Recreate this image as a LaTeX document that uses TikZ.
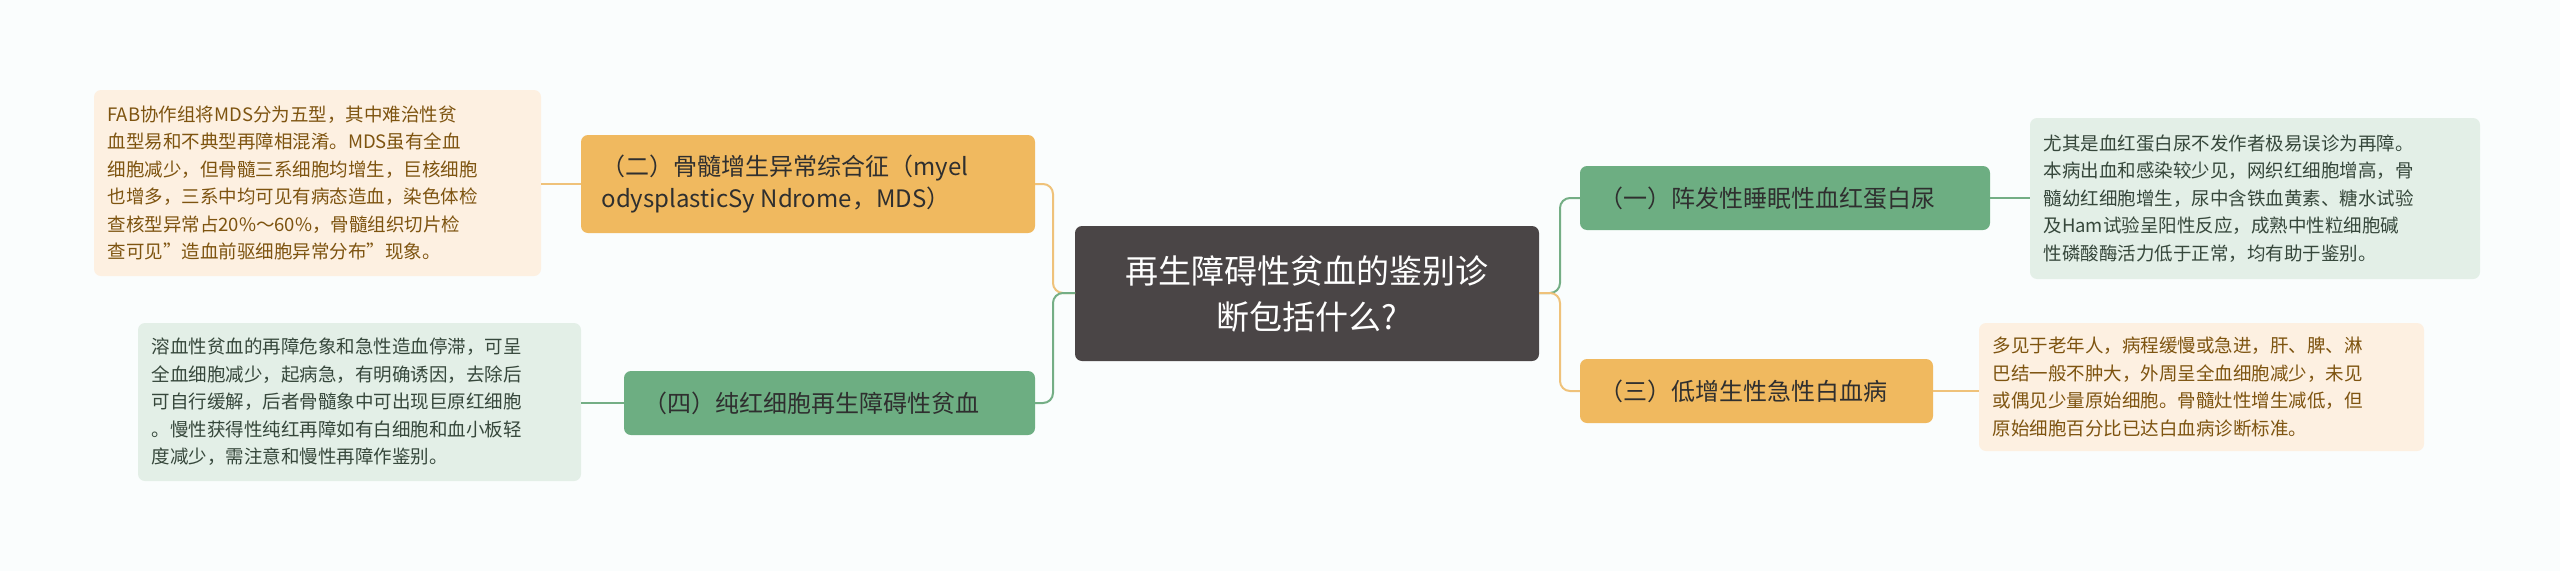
\documentclass[tikz,border=0pt]{standalone}
\usepackage{fontspec}
\setmainfont{Noto Sans CJK SC}
\begin{document}
\begin{tikzpicture}[x=1pt,y=-1pt,
  box/.style={rounded corners=7pt,inner sep=0pt,anchor=north west},
  oline/.style={draw=orangeL,line width=2pt,rounded corners=10pt},
  gline/.style={draw=greenL,line width=2pt,rounded corners=10pt},
  otxt/.style={text=brownT,font=\fontsize{18.5}{27.5}\selectfont,align=left,anchor=west},
  gtxt/.style={text=greenT,font=\fontsize{18.5}{27.5}\selectfont,align=left,anchor=west},
  btxt/.style={font=\fontsize{24}{32}\selectfont,text=darkT,align=left,anchor=west}]
\definecolor{bg}{HTML}{FAFDFD}
\definecolor{orangeF}{HTML}{F0B95F}
\definecolor{orangeL}{HTML}{EFC27A}
\definecolor{greenF}{HTML}{6DAE82}
\definecolor{greenL}{HTML}{74AE85}
\definecolor{lightO}{HTML}{FDF0E1}
\definecolor{lightG}{HTML}{E3EFE7}
\definecolor{brownT}{HTML}{7E5410}
\definecolor{greenT}{HTML}{36473B}
\definecolor{darkT}{HTML}{2F2F2F}
\definecolor{centerF}{HTML}{4A4546}
\fill[bg] (0,0) rectangle (2560,571);
\useasboundingbox (0,0) rectangle (2560,571);
% boxes
\fill[centerF,rounded corners=7pt] (1075,226) rectangle (1539,361);
\node[text=white,font=\fontsize{33}{46}\selectfont,align=center] (c) at (1307,293.5) {再生障碍性贫血的鉴别诊\\断包括什么?};
\coordinate (cl) at (1075,293); \coordinate (cr) at (1539,293);

\fill[orangeF,rounded corners=7pt] (581,135) rectangle (1035,233);
\node[btxt] (b2) at (598,184) {（二）骨髓增生异常综合征（myel\\odysplasticSy Ndrome，MDS）};
\coordinate (b2r) at (1035,184); \coordinate (b2l) at (581,184);

\fill[greenF,rounded corners=7pt] (624,371) rectangle (1035,435);
\node[btxt] (b4) at (640,403) {（四）纯红细胞再生障碍性贫血};
\coordinate (b4r) at (1035,403); \coordinate (b4l) at (624,403);

\fill[greenF,rounded corners=7pt] (1580,166) rectangle (1990,230);
\node[btxt] (b1) at (1596,198) {（一）阵发性睡眠性血红蛋白尿};
\coordinate (b1l) at (1580,198); \coordinate (b1r) at (1990,198);

\fill[orangeF,rounded corners=7pt] (1580,359) rectangle (1933,423);
\node[btxt] (b3) at (1596,391) {（三）低增生性急性白血病};
\coordinate (b3l) at (1580,391); \coordinate (b3r) at (1933,391);

\fill[lightO,rounded corners=7pt] (94,90) rectangle (541,276);
\node[otxt] (t2) at (104,183) {FAB协作组将MDS分为五型，其中难治性贫\\血型易和不典型再障相混淆。MDS虽有全血\\细胞减少，但骨髓三系细胞均增生，巨核细胞\\也增多，三系中均可见有病态造血，染色体检\\查核型异常占20\%～60\%，骨髓组织切片检\\查可见"造血前驱细胞异常分布"现象。};
\coordinate (t2r) at (541,184);

\fill[lightG,rounded corners=7pt] (138,323) rectangle (581,481);
\node[gtxt] (t4) at (148,402) {溶血性贫血的再障危象和急性造血停滞，可呈\\全血细胞减少，起病急，有明确诱因，去除后\\可自行缓解，后者骨髓象中可出现巨原红细胞\\。慢性获得性纯红再障如有白细胞和血小板轻\\度减少，需注意和慢性再障作鉴别。};
\coordinate (t4r) at (581,403);

\fill[lightG,rounded corners=7pt] (2030,118) rectangle (2480,279);
\node[gtxt] (t1) at (2040,198.5) {尤其是血红蛋白尿不发作者极易误诊为再障。\\本病出血和感染较少见，网织红细胞增高，骨\\髓幼红细胞增生，尿中含铁血黄素、糖水试验\\及Ham试验呈阳性反应，成熟中性粒细胞碱\\性磷酸酶活力低于正常，均有助于鉴别。};
\coordinate (t1l) at (2030,198);

\fill[lightO,rounded corners=7pt] (1979,323) rectangle (2424,451);
\node[otxt] (t3) at (1989,387) {多见于老年人，病程缓慢或急进，肝、脾、淋\\巴结一般不肿大，外周呈全血细胞减少，未见\\或偶见少量原始细胞。骨髓灶性增生减低，但\\原始细胞百分比已达白血病诊断标准。};
\coordinate (t3l) at (1979,391);

% connectors
\draw[oline] (cl) -- (1053,293) -- (1053,184) -- (b2r);
\draw[gline] (cl) -- (1053,293) -- (1053,403) -- (b4r);
\draw[gline] (cr) -- (1560,293) -- (1560,198) -- (b1l);
\draw[oline] (cr) -- (1560,293) -- (1560,391) -- (b3l);
\draw[oline] (b2l) -- (t2r);
\draw[gline] (b4l) -- (t4r);
\draw[gline] (b1r) -- (t1l);
\draw[oline] (b3r) -- (t3l);
\end{tikzpicture}
\end{document}
